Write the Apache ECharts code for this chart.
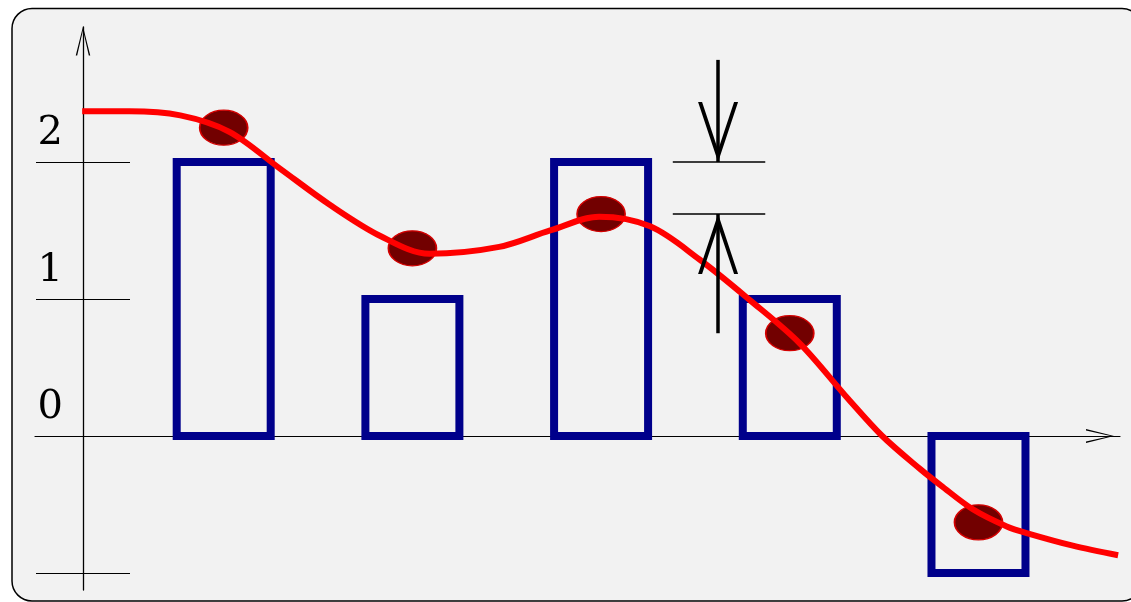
<!DOCTYPE html>
<html>
<head>
<meta charset="utf-8">
<script src="https://cdn.jsdelivr.net/npm/echarts@6/dist/echarts.min.js"></script>
<style>
  html, body { margin: 0; padding: 0; background: #ffffff; }
  #chart { width: 1131px; height: 602px; }
</style>
</head>
<body>
<div id="chart"></div>
<script>
// data
var barX = [1, 2, 3, 4, 5];
var barValues = [2, 1, 2, 1, -1];
var pointY = [2.25, 1.37, 1.62, 0.75, -0.63];
var curveX = [0.25, 0.50, 0.77, 1.03, 1.30, 1.56, 1.83, 2.09, 2.46, 2.73, 2.99, 3.26, 3.52, 3.79, 4.05, 4.31, 4.49, 4.69, 4.80, 4.97, 5.15, 5.26, 5.50, 5.74];
var curveY = [2.37, 2.37, 2.34, 2.22, 1.95, 1.69, 1.46, 1.33, 1.38, 1.50, 1.60, 1.53, 1.29, 0.99, 0.68, 0.27, 0.00, -0.24, -0.36, -0.535, -0.66, -0.71, -0.80, -0.87];
var tickValues = [-1, 0, 1, 2];
var labelValues = [0, 1, 2];
// gap marker at the third bar
var gapX = [3.38, 3.87];
var arrowX = 3.62;
var arrowDownFrom = 2.745;
var arrowUpFrom = 0.75;

var chevron = 'path://M10,0 L20,40 L18,40 L10,5 L2,40 L0,40 Z';
var bigChevron = 'path://M20,0 L40,60 L36,60 L20,12 L4,60 L0,60 Z';

var chart = echarts.init(document.getElementById('chart'));

function renderBar(params, api) {
  var x = api.value(0);
  var v = api.value(1);
  var p0 = api.coord([x, 0]);
  var p1 = api.coord([x, v]);
  var w = 94;
  return {
    type: 'rect',
    shape: {
      x: p0[0] - w / 2,
      y: Math.min(p0[1], p1[1]),
      width: w,
      height: Math.abs(p1[1] - p0[1])
    },
    style: { fill: 'none', stroke: '#00008b', lineWidth: 8 }
  };
}

var option = {
  backgroundColor: 'transparent',
  animation: false,
  graphic: [{
    type: 'rect',
    z: -100,
    shape: { x: 12, y: 8.5, width: 1130, height: 592.5, r: 20 },
    style: { fill: '#f2f2f2', stroke: '#000000', lineWidth: 1.5 }
  }],
  grid: { left: 35, right: 11, top: 27, bottom: 12 },
  xAxis: {
    type: 'value',
    min: 0,
    max: 5.75,
    axisLine: {
      show: true,
      onZero: true,
      symbol: ['none', chevron],
      symbolSize: [14, 41],
      symbolOffset: [0, -20],
      lineStyle: { color: '#000000', width: 1.2 }
    },
    axisTick: { show: false },
    axisLabel: { show: false },
    splitLine: { show: false }
  },
  yAxis: [{
    type: 'value',
    min: -1.124,
    max: 2.985,
    position: 'left',
    offset: -48,
    axisLine: {
      show: true,
      onZero: false,
      symbol: ['none', chevron],
      symbolSize: [20, 29],
      symbolOffset: [0, -14],
      lineStyle: { color: '#000000', width: 1.3 }
    },
    axisTick: {
      show: true,
      length: 47,
      customValues: tickValues,
      lineStyle: { color: '#000000', width: 1.2 }
    },
    axisLabel: {
      show: true,
      customValues: labelValues,
      margin: 20,
      verticalAlign: 'bottom',
      padding: [0, 0, 8, 0],
      fontFamily: 'DejaVu Serif',
      fontSize: 40,
      color: '#000000'
    },
    splitLine: { show: false }
  }, {
    type: 'value',
    min: -1.124,
    max: 2.985,
    position: 'left',
    offset: -48,
    axisLine: { show: false },
    axisTick: {
      show: true,
      inside: true,
      length: 47,
      customValues: tickValues,
      lineStyle: { color: '#000000', width: 1.2 }
    },
    axisLabel: { show: false },
    splitLine: { show: false }
  }],
  series: [{
    type: 'custom',
    z: 2,
    renderItem: renderBar,
    data: barX.map(function (x, i) { return [x, barValues[i]]; })
  }, {
    type: 'scatter',
    z: 3,
    symbol: 'circle',
    symbolSize: [48, 35],
    data: barX.map(function (x, i) { return [x, pointY[i]]; }),
    itemStyle: { color: '#720000', borderColor: '#d40000', borderWidth: 1.5, opacity: 1 }
  }, {
    type: 'line',
    z: 4,
    smooth: 0.33,
    showSymbol: false,
    data: curveX.map(function (x, i) { return [x, curveY[i]]; }),
    lineStyle: { color: '#ff0000', width: 6 },
    markLine: {
      silent: true,
      symbol: 'none',
      label: { show: false },
      lineStyle: { color: '#000000', width: 1.5, type: 'solid' },
      data: [
        [{ coord: [gapX[0], barValues[2]] }, { coord: [gapX[1], barValues[2]] }],
        [{ coord: [gapX[0], pointY[2]] }, { coord: [gapX[1], pointY[2]] }]
      ]
    }
  }, {
    type: 'line',
    z: 5,
    data: [],
    markLine: {
      silent: true,
      symbol: ['none', bigChevron],
      symbolSize: [40, 60],
      symbolOffset: [0, [0, 30]],
      label: { show: false },
      lineStyle: { color: '#000000', width: 3.5, type: 'solid' },
      data: [
        [{ coord: [arrowX, arrowDownFrom] }, { coord: [arrowX, barValues[2]] }],
        [{ coord: [arrowX, arrowUpFrom] }, { coord: [arrowX, pointY[2]] }]
      ]
    }
  }]
};

chart.setOption(option);
</script>
</body>
</html>
